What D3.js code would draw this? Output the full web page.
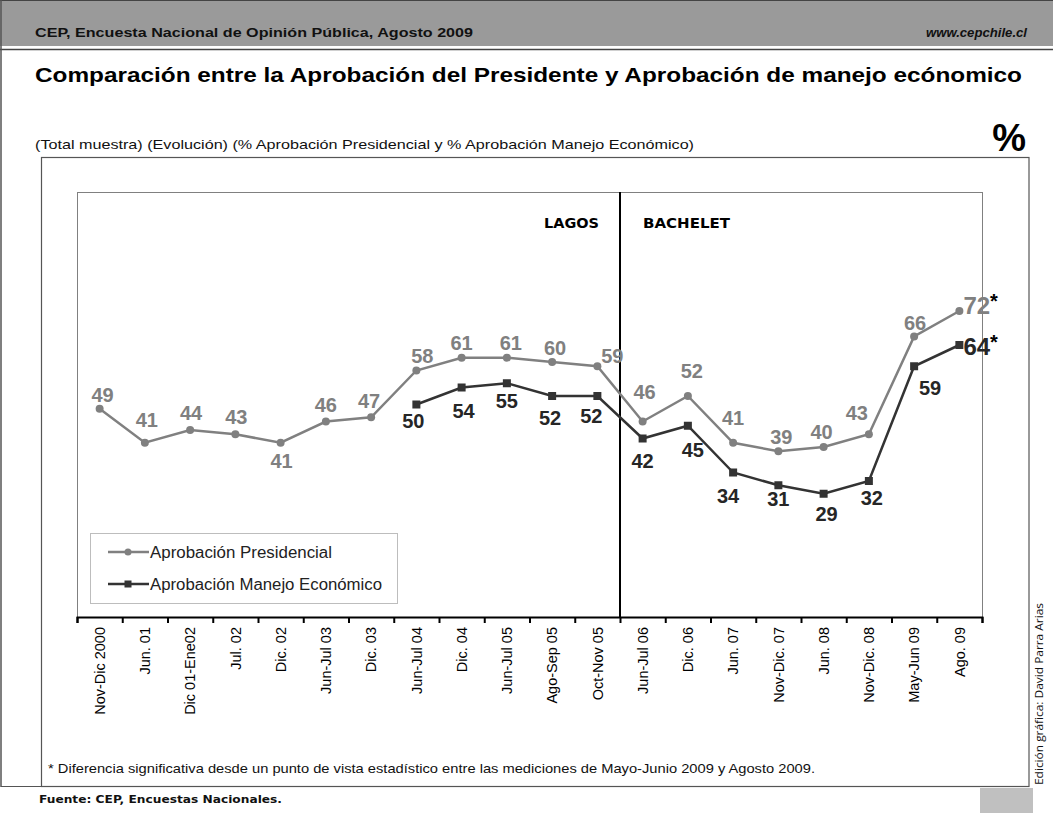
<!DOCTYPE html>
<html>
<head>
<meta charset="utf-8">
<script src="https://cdn.jsdelivr.net/npm/d3@7"></script>
<style>
  body { margin: 0; background: #fff; }
  svg { display: block; font-family: "Liberation Sans", Arial, sans-serif; }
</style>
</head>
<body>
<div id="wrapper"></div>
<script>
// 1. data
const categories = ["Nov-Dic 2000", "Jun. 01", "Dic 01-Ene02", "Jul. 02", "Dic. 02", "Jun-Jul 03",
  "Dic. 03", "Jun-Jul 04", "Dic. 04", "Jun-Jul 05", "Ago-Sep 05", "Oct-Nov 05", "Jun-Jul 06",
  "Dic. 06", "Jun. 07", "Nov-Dic. 07", "Jun. 08", "Nov-Dic. 08", "May-Jun 09", "Ago. 09"]
const presidential = [49, 41, 44, 43, 41, 46, 47, 58, 61, 61, 60, 59, 46, 52, 41, 39, 40, 43, 66, 72]
const economic = [null, null, null, null, null, null, null, 50, 54, 55, 52, 52, 42, 45, 34, 31, 29, 32, 59, 64]
const seriesNames = ["Aprobación Presidencial", "Aprobación Manejo Económico"]
const eraNames = ["LAGOS", "BACHELET"]
const eraSplit = 12   // first category of the second era

// hand placed label nudges (dx, dy from the point), as in the original
const presOffsets = [[3, -7], [2, -16], [1, -10], [1, -10], [1, 25], [0, -10], [-2, -9], [6, -8],
  [0, -8], [4, -8], [3, -7], [15, -3], [2, -23], [4, -18], [0, -18], [3, -7], [-2, -8], [-12, -14], [1, -7]]
const ecoOffsets = {7: [-3, 23], 8: [2, 30], 9: [0, 25], 10: [-2, 29], 11: [-6, 27], 12: [0, 29],
  13: [5, 31], 14: [-5, 30], 15: [0, 21], 16: [3, 27], 17: [3, 24], 18: [16, 29]}

const grey = "#808080"
const dark = "#333333"

const svg = d3.select("#wrapper").append("svg")
  .attr("width", 1053)
  .attr("height", 813)

// stretched text helper: the original page texts are wider than the font
const fitText = (x, y, str, size, len, opts = {}) => {
  const t = svg.append("text").attr("x", x).attr("y", y)
    .style("font-size", size + "px")
    .attr("fill", opts.fill || "#111")
    .attr("textLength", len)
    .attr("lengthAdjust", "spacingAndGlyphs")
    .text(str)
  if (opts.bold) t.style("font-weight", "bold")
  if (opts.italic) t.style("font-style", "italic")
  if (opts.family) t.style("font-family", opts.family)
  if (opts.anchor) t.attr("text-anchor", opts.anchor)
  return t
}

// page header
svg.append("rect").attr("x", 0).attr("y", 0).attr("width", 1053).attr("height", 46).attr("fill", "#9a9a9a")
svg.append("line").attr("x1", 0).attr("x2", 1053).attr("y1", 0.5).attr("y2", 0.5).attr("stroke", "#444")
svg.append("line").attr("x1", 0).attr("x2", 1053).attr("y1", 49.5).attr("y2", 49.5).attr("stroke", "#444").attr("stroke-width", 1.5)
svg.append("line").attr("x1", 1).attr("x2", 1).attr("y1", 0).attr("y2", 787).attr("stroke", "#555").attr("stroke-width", 1.5)

fitText(35, 37, "CEP, Encuesta Nacional de Opinión Pública, Agosto 2009", 12.5, 438, {bold: true})
fitText(1027, 37, "www.cepchile.cl", 12.5, 101, {bold: true, italic: true, anchor: "end"})

fitText(35, 82, "Comparación entre la Aprobación del Presidente y Aprobación de manejo ecónomico", 21, 987,
  {bold: true, fill: "#000"})

fitText(35, 149, "(Total muestra) (Evolución) (% Aprobación Presidencial y % Aprobación Manejo Económico)", 13, 659)
svg.append("text").attr("x", 1026).attr("y", 151).attr("text-anchor", "end")
  .style("font-size", "38px").style("font-weight", "bold").attr("fill", "#000")
  .text("%")

// chart frame
svg.append("rect").attr("x", 41.5).attr("y", 157.5).attr("width", 987.5).attr("height", 629)
  .attr("fill", "none").attr("stroke", "#555").attr("stroke-width", 1.2)
svg.append("line").attr("x1", 1).attr("x2", 41).attr("y1", 786.5).attr("y2", 786.5)
  .attr("stroke", "#555").attr("stroke-width", 1.2)

// 2. scales
const dims = {left: 77, right: 982, top: 192, bottom: 617}

const xScale = d3.scaleBand()
  .domain(categories)
  .range([dims.left, dims.right])
const xEdge = d3.scaleLinear()
  .domain([0, categories.length])
  .range([dims.left, dims.right])
const yScale = d3.scaleLinear()
  .domain([0, 100])
  .range([dims.bottom, dims.top])
const cx = d => xScale(d) + xScale.bandwidth() / 2

// plot area
svg.append("rect").attr("x", dims.left + 0.5).attr("y", dims.top + 0.5)
  .attr("width", dims.right - dims.left).attr("height", dims.bottom - dims.top)
  .attr("fill", "none").attr("stroke", grey)

// era divider
svg.append("line")
  .attr("x1", xEdge(eraSplit)).attr("x2", xEdge(eraSplit))
  .attr("y1", dims.top).attr("y2", dims.bottom)
  .attr("stroke", "#000").attr("stroke-width", 2)
fitText(xEdge(eraSplit) - 21, 228, eraNames[0], 14, 55, {bold: true, family: "DejaVu Sans", fill: "#000", anchor: "end"})
fitText(xEdge(eraSplit) + 23, 228, eraNames[1], 14, 87, {bold: true, family: "DejaVu Sans", fill: "#000"})

// 3. axis
const tickAxis = svg.append("g")
  .attr("transform", `translate(0, ${dims.bottom})`)
  .call(d3.axisBottom(xEdge).ticks(categories.length).tickSize(6).tickFormat(""))
tickAxis.select(".domain").attr("stroke", "#000").attr("stroke-width", 2)
tickAxis.selectAll(".tick line").attr("stroke", "#000").attr("stroke-width", 2)

const labelAxis = svg.append("g")
  .attr("transform", `translate(0, ${dims.bottom})`)
  .call(d3.axisBottom(xScale).tickSize(0))
labelAxis.select(".domain").remove()
labelAxis.selectAll(".tick text")
  .attr("transform", "rotate(-90)")
  .attr("x", -10)
  .attr("y", 0)
  .attr("dy", "0.36em")
  .attr("text-anchor", "end")
  .style("font-family", "Liberation Sans, Arial, sans-serif")
  .style("font-size", "14.5px")
  .attr("fill", "#000")

// 4. lines
const presData = categories.map((c, i) => ({c, v: presidential[i], i}))
const ecoData = categories.map((c, i) => ({c, v: economic[i], i})).filter(d => d.v !== null)

const line = d3.line()
  .x(d => cx(d.c))
  .y(d => yScale(d.v))

svg.append("path").datum(presData)
  .attr("d", line).attr("fill", "none").attr("stroke", grey).attr("stroke-width", 2.5)
svg.append("path").datum(ecoData)
  .attr("d", line).attr("fill", "none").attr("stroke", dark).attr("stroke-width", 2.5)

svg.selectAll(".pres-dot").data(presData).join("circle")
  .attr("class", "pres-dot")
  .attr("cx", d => cx(d.c)).attr("cy", d => yScale(d.v))
  .attr("r", 4).attr("fill", grey)

svg.selectAll(".eco-dot").data(ecoData).join("rect")
  .attr("class", "eco-dot")
  .attr("x", d => cx(d.c) - 4).attr("y", d => yScale(d.v) - 4)
  .attr("width", 8).attr("height", 8).attr("fill", dark)

// 5. value labels
const last = categories.length - 1
svg.selectAll(".pres-lab").data(presData.filter(d => d.i < last)).join("text")
  .attr("class", "pres-lab")
  .attr("x", d => cx(d.c) + presOffsets[d.i][0])
  .attr("y", d => yScale(d.v) + presOffsets[d.i][1])
  .attr("text-anchor", "middle")
  .style("font-size", "20px").style("font-weight", "bold").attr("fill", grey)
  .text(d => d.v)

svg.selectAll(".eco-lab").data(ecoData.filter(d => d.i < last)).join("text")
  .attr("class", "eco-lab")
  .attr("x", d => cx(d.c) + ecoOffsets[d.i][0])
  .attr("y", d => yScale(d.v) + ecoOffsets[d.i][1])
  .attr("text-anchor", "middle")
  .style("font-size", "20px").style("font-weight", "bold").attr("fill", "#262626")
  .text(d => d.v)

// last values with significance star
const lastLabels = [
  {v: presidential[last], color: grey, dy: 3},
  {v: economic[last], color: "#262626", dy: 10}
]
lastLabels.forEach(d => {
  const t = svg.append("text")
    .attr("x", cx(categories[last]) + 4)
    .attr("y", yScale(d.v) + d.dy)
    .style("font-size", "24px").style("font-weight", "bold").attr("fill", d.color)
  t.append("tspan").text(d.v)
  t.append("tspan").attr("fill", "#000").attr("dy", -6).style("font-size", "20px").text("*")
})

// 6. legend
const legend = svg.append("g")
legend.append("rect").attr("x", 90.5).attr("y", 533.5).attr("width", 307).attr("height", 70)
  .attr("fill", "#fff").attr("stroke", "#bdbdbd")
const legendItems = [
  {name: seriesNames[0], color: grey, y: 552, shape: "circle", len: 182},
  {name: seriesNames[1], color: dark, y: 584, shape: "square", len: 232}
]
legendItems.forEach(d => {
  legend.append("line").attr("x1", 108).attr("x2", 149).attr("y1", d.y).attr("y2", d.y)
    .attr("stroke", d.color).attr("stroke-width", 2.5)
  if (d.shape === "circle") {
    legend.append("circle").attr("cx", 128).attr("cy", d.y).attr("r", 3.5).attr("fill", d.color)
  } else {
    legend.append("rect").attr("x", 124.5).attr("y", d.y - 3.5).attr("width", 7).attr("height", 7).attr("fill", d.color)
  }
  legend.append("text").attr("x", 150).attr("y", d.y).attr("dy", "0.35em")
    .style("font-size", "16px").attr("fill", "#222")
    .attr("textLength", d.len).attr("lengthAdjust", "spacingAndGlyphs")
    .text(d.name)
})

// 7. notes
fitText(48, 773, "* Diferencia significativa desde un punto de vista estadístico entre las mediciones de Mayo-Junio 2009 y Agosto 2009.", 13, 767)
fitText(39, 803, "Fuente: CEP, Encuestas Nacionales.", 11, 243, {bold: true, family: "DejaVu Sans"})
svg.append("rect").attr("x", 980).attr("y", 788).attr("width", 53).attr("height", 25).attr("fill", "#c0c0c0")
svg.append("text")
  .attr("transform", "translate(1043, 785) rotate(-90)")
  .style("font-family", "Open Sans").style("font-size", "11px").attr("fill", "#111")
  .attr("textLength", 182).attr("lengthAdjust", "spacingAndGlyphs")
  .text("Edición gráfica: David Parra Arias")
</script>
</body>
</html>
